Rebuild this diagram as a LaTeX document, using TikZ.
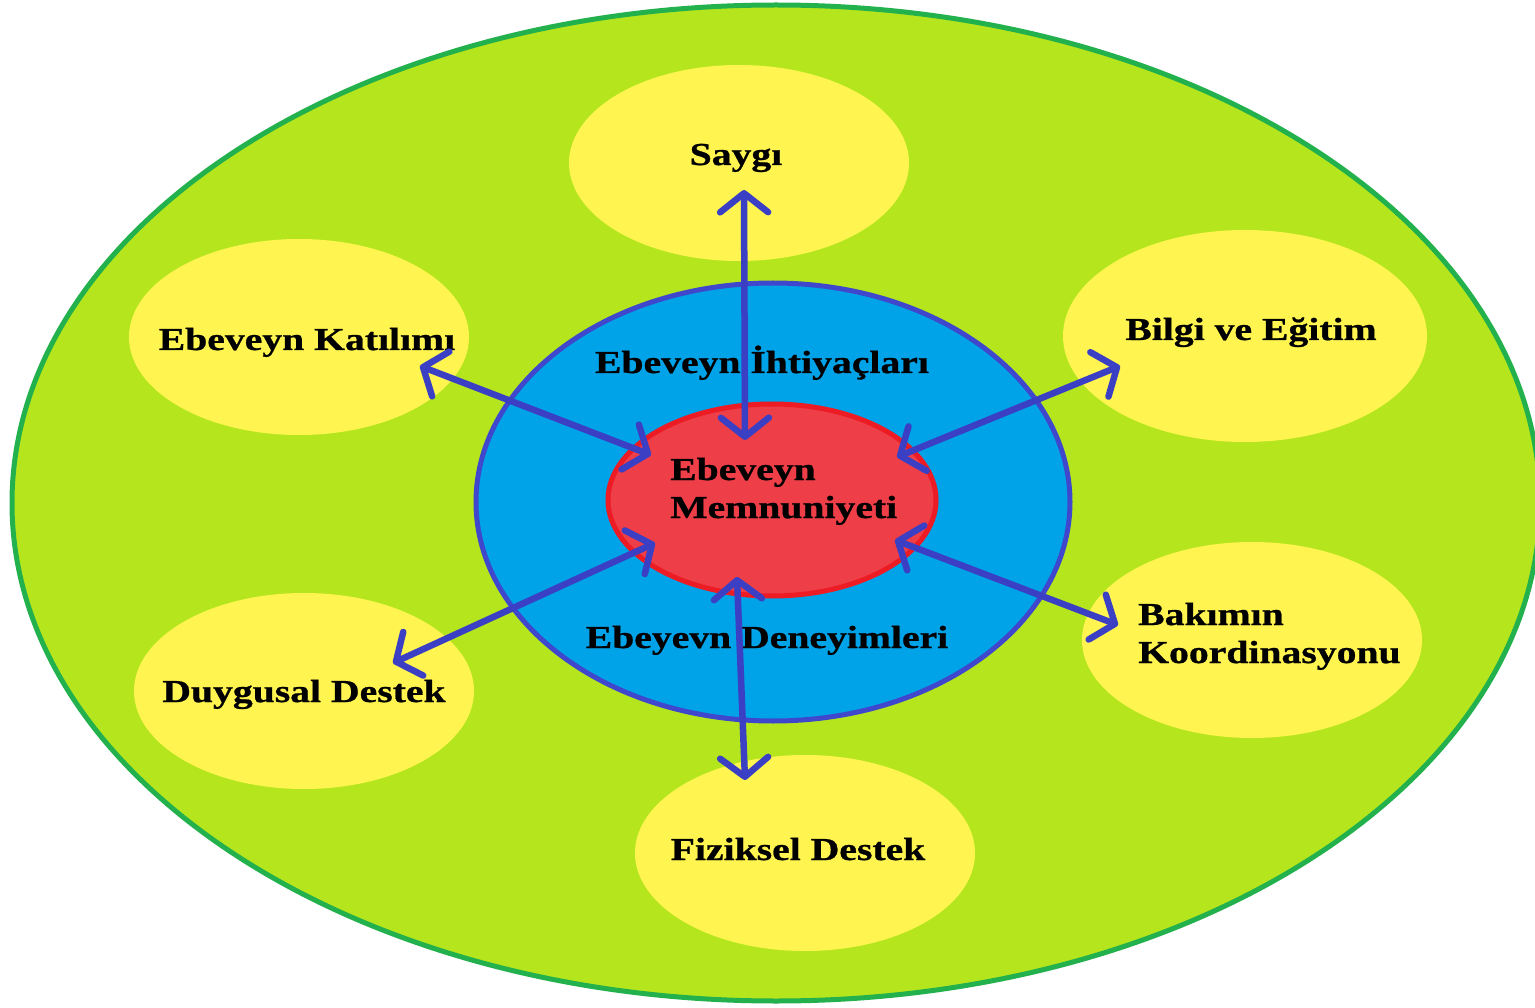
\documentclass[tikz,border=0pt]{standalone}
\usepackage{fontspec}
\setmainfont{Liberation Serif}[FakeStretch=1.24,BoldFeatures={FakeBold=0.8}]
\usetikzlibrary{shapes.geometric,arrows.meta}
\definecolor{gfill}{HTML}{B5E61D}
\definecolor{gline}{HTML}{22B14C}
\definecolor{yfill}{HTML}{FFF450}
\definecolor{bfill}{HTML}{00A2E8}
\definecolor{bline}{HTML}{3F48CC}
\definecolor{rfill}{HTML}{EE3E48}
\definecolor{rline}{HTML}{ED1C24}
\definecolor{arr}{HTML}{3B3FC4}
\begin{document}
\begin{tikzpicture}[x=1pt,y=-1pt,
  oval/.style={ellipse,inner sep=0pt},
  outerov/.style={oval,fill=gfill,draw=gline,line width=5pt},
  yov/.style={oval,fill=yfill,minimum width=340pt,minimum height=196pt},
  blueov/.style={oval,fill=bfill,draw=bline,line width=5pt},
  redov/.style={oval,fill=rfill,draw=rline,line width=5pt},
  lbl/.style={inner sep=0pt,font=\bfseries\fontsize{32}{38}\selectfont},
  link/.style={draw=arr,line width=6.5pt,line cap=round,
    {Straight Barb[length=19pt,width=48pt,round]}-{Straight Barb[length=19pt,width=48pt,round]}}
]
\useasboundingbox (0,0) rectangle (1535,1008);
\node[outerov,minimum width=1528pt,minimum height=996pt] (outer) at (776,503) {};
\node[yov] (saygi) at (739,163) {};
\node[yov] (katilim) at (299,337) {};
\node[yov,minimum width=364pt,minimum height=212pt] (bilgi) at (1245,336) {};
\node[yov] (duygu) at (304,691) {};
\node[yov] (bakim) at (1252,640) {};
\node[yov] (fizik) at (805,853) {};
\node[blueov,minimum width=594pt,minimum height=438pt] (mavi) at (773,502) {};
\node[redov,minimum width=328pt,minimum height=192pt] (kirmizi) at (772,500) {};

\node[lbl,anchor=base] (tsaygi) at (736,165) {Saygı};
\node[lbl,anchor=base] (tkatilim) at (307,350) {Ebeveyn Katılımı};
\node[lbl,anchor=base] (tbilgi) at (1251,340) {Bilgi ve Eğitim};
\node[lbl,anchor=base] (tihtiyac) at (762,373) {Ebeveyn İhtiyaçları};
\node[lbl,anchor=base west,align=left] (tmemnun) at (670,518) {Ebeveyn\\Memnuniyeti};
\node[lbl,anchor=base] (tdeneyim) at (767,648) {Ebeyevn Deneyimleri};
\node[lbl,anchor=base west,align=left] (tbakim) at (1138,663) {Bakımın\\Koordinasyonu};
\node[lbl,anchor=base] (tduygu) at (304,702) {Duygusal Destek};
\node[lbl,anchor=base] (tfizik) at (798,860) {Fiziksel Destek};

\coordinate (a1) at (744,190);  \coordinate (b1) at (745,440);
\coordinate (a2) at (420,366);  \coordinate (b2) at (651,455);
\coordinate (a3) at (1120,366); \coordinate (b3) at (897,457);
\coordinate (a4) at (393,663);  \coordinate (b4) at (655,543);
\coordinate (a5) at (1118,625); \coordinate (b5) at (895,540);
\coordinate (a6) at (745,780);  \coordinate (b6) at (737,577);
\draw[link] (a1) -- (b1);
\draw[link] (a2) -- (b2);
\draw[link] (a3) -- (b3);
\draw[link] (a4) -- (b4);
\draw[link] (a5) -- (b5);
\draw[link] (a6) -- (b6);
\end{tikzpicture}
\end{document}
